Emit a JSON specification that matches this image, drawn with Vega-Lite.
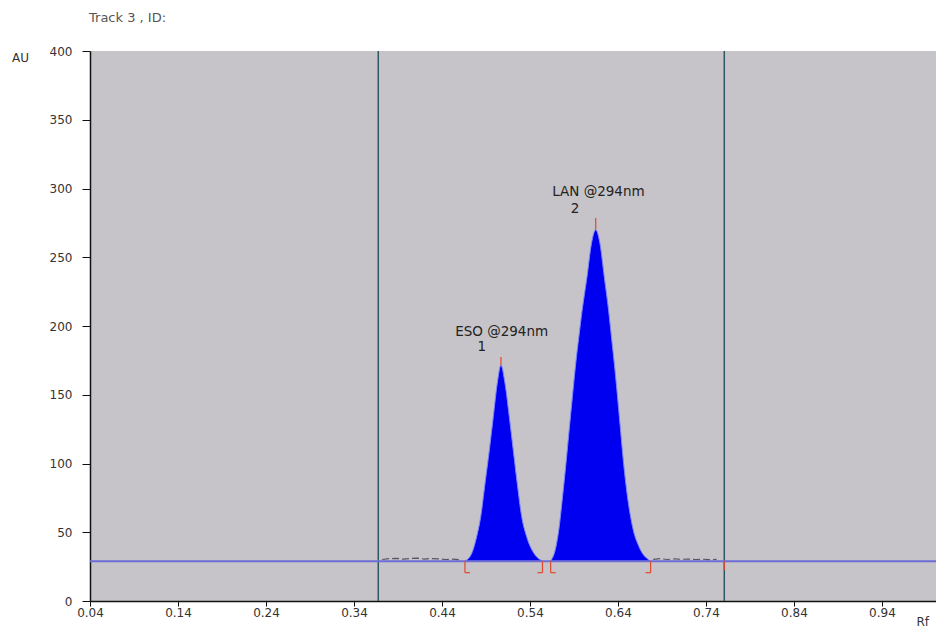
{
  "$schema": "https://vega.github.io/schema/vega-lite/v6.json",
  "width": 846,
  "height": 550,
  "autosize": {"type": "none"},
  "padding": {"left": 90, "top": 51, "right": 0, "bottom": 29},
  "background": "#ffffff",
  "title": {"text": "Track 3 , ID:", "anchor": "start", "frame": "group", "dx": -1, "offset": 7, "baseline": "bottom", "font": "DejaVu Sans", "fontSize": 13, "fontWeight": "normal", "color": "#555555"},
  "config": {
    "view": {"fill": "#c6c4c8", "stroke": null},
    "axis": {"grid": false, "domainColor": "#111111", "domainWidth": 1.5, "tickColor": "#111111", "labelFont": "DejaVu Sans", "labelFontSize": 12, "labelColor": "#333333", "titleFont": "DejaVu Sans", "titleFontSize": 12, "titleFontWeight": "normal", "titleColor": "#333333"}
  },
  "datasets": {
    "vlines": [{"rf": 0.3676}, {"rf": 0.7608}],
    "peaks": [
      {"peak": "ESO", "rf": 0.4661, "au": 29},
      {"peak": "ESO", "rf": 0.4738, "au": 34.7},
      {"peak": "ESO", "rf": 0.4794, "au": 46.8},
      {"peak": "ESO", "rf": 0.4840, "au": 61.3},
      {"peak": "ESO", "rf": 0.4889, "au": 85.6},
      {"peak": "ESO", "rf": 0.4938, "au": 109.8},
      {"peak": "ESO", "rf": 0.4983, "au": 134.0},
      {"peak": "ESO", "rf": 0.5028, "au": 158.3},
      {"peak": "ESO", "rf": 0.5070, "au": 171.6},
      {"peak": "ESO", "rf": 0.5116, "au": 158.3},
      {"peak": "ESO", "rf": 0.5165, "au": 134.0},
      {"peak": "ESO", "rf": 0.5210, "au": 109.8},
      {"peak": "ESO", "rf": 0.5255, "au": 85.6},
      {"peak": "ESO", "rf": 0.5306, "au": 61.3},
      {"peak": "ESO", "rf": 0.5362, "au": 46.8},
      {"peak": "ESO", "rf": 0.5445, "au": 34.7},
      {"peak": "ESO", "rf": 0.5542, "au": 29},
      {"peak": "LAN", "rf": 0.5635, "au": 29},
      {"peak": "LAN", "rf": 0.5695, "au": 39.5},
      {"peak": "LAN", "rf": 0.5727, "au": 51.6},
      {"peak": "LAN", "rf": 0.5770, "au": 75.9},
      {"peak": "LAN", "rf": 0.5809, "au": 100.1},
      {"peak": "LAN", "rf": 0.5845, "au": 124.4},
      {"peak": "LAN", "rf": 0.5882, "au": 148.6},
      {"peak": "LAN", "rf": 0.5920, "au": 172.9},
      {"peak": "LAN", "rf": 0.5955, "au": 192.0},
      {"peak": "LAN", "rf": 0.5993, "au": 211.6},
      {"peak": "LAN", "rf": 0.6048, "au": 235.9},
      {"peak": "LAN", "rf": 0.6099, "au": 260.1},
      {"peak": "LAN", "rf": 0.6147, "au": 270.0},
      {"peak": "LAN", "rf": 0.6195, "au": 260.1},
      {"peak": "LAN", "rf": 0.6244, "au": 235.9},
      {"peak": "LAN", "rf": 0.6293, "au": 211.6},
      {"peak": "LAN", "rf": 0.6326, "au": 192.0},
      {"peak": "LAN", "rf": 0.6358, "au": 172.9},
      {"peak": "LAN", "rf": 0.6395, "au": 148.6},
      {"peak": "LAN", "rf": 0.6429, "au": 124.4},
      {"peak": "LAN", "rf": 0.6464, "au": 100.1},
      {"peak": "LAN", "rf": 0.6508, "au": 75.9},
      {"peak": "LAN", "rf": 0.6574, "au": 51.6},
      {"peak": "LAN", "rf": 0.6639, "au": 39.5},
      {"peak": "LAN", "rf": 0.6771, "au": 29}
    ],
    "noise": [
      {"seg": "a", "rf": 0.372, "au": 30.2},
      {"seg": "a", "rf": 0.380, "au": 30.8},
      {"seg": "a", "rf": 0.388, "au": 31.0},
      {"seg": "a", "rf": 0.396, "au": 30.4},
      {"seg": "a", "rf": 0.404, "au": 30.9},
      {"seg": "a", "rf": 0.412, "au": 31.2},
      {"seg": "a", "rf": 0.420, "au": 30.5},
      {"seg": "a", "rf": 0.428, "au": 30.9},
      {"seg": "a", "rf": 0.436, "au": 30.6},
      {"seg": "a", "rf": 0.444, "au": 30.2},
      {"seg": "a", "rf": 0.452, "au": 30.4},
      {"seg": "a", "rf": 0.460, "au": 30.0},
      {"seg": "b", "rf": 0.680, "au": 30.3},
      {"seg": "b", "rf": 0.688, "au": 30.8},
      {"seg": "b", "rf": 0.696, "au": 30.2},
      {"seg": "b", "rf": 0.704, "au": 30.6},
      {"seg": "b", "rf": 0.712, "au": 30.3},
      {"seg": "b", "rf": 0.720, "au": 30.5},
      {"seg": "b", "rf": 0.728, "au": 30.2},
      {"seg": "b", "rf": 0.736, "au": 30.4},
      {"seg": "b", "rf": 0.744, "au": 30.1},
      {"seg": "b", "rf": 0.752, "au": 30.3}
    ],
    "marks": [
      {"rf": 0.4661, "rf2": 0.4661, "au": 29, "au2": 20.6},
      {"rf": 0.4661, "rf2": 0.4718, "au": 20.6, "au2": 20.6},
      {"rf": 0.5542, "rf2": 0.5542, "au": 29, "au2": 20.6},
      {"rf": 0.5485, "rf2": 0.5542, "au": 20.6, "au2": 20.6},
      {"rf": 0.5635, "rf2": 0.5635, "au": 29, "au2": 20.6},
      {"rf": 0.5635, "rf2": 0.5692, "au": 20.6, "au2": 20.6},
      {"rf": 0.6771, "rf2": 0.6771, "au": 29, "au2": 20.6},
      {"rf": 0.6714, "rf2": 0.6771, "au": 20.6, "au2": 20.6},
      {"rf": 0.5070, "rf2": 0.5070, "au": 171.6, "au2": 177.5},
      {"rf": 0.6147, "rf2": 0.6147, "au": 270, "au2": 278.5},
      {"rf": 0.7608, "rf2": 0.7608, "au": 29, "au2": 22.5}
    ],
    "labels": [
      {"rf": 0.5078, "au": 195.9, "text": "ESO @294nm"},
      {"rf": 0.4851, "au": 185.0, "text": "1"},
      {"rf": 0.6178, "au": 297.7, "text": "LAN @294nm"},
      {"rf": 0.5911, "au": 284.9, "text": "2"}
    ],
    "base": [{"au": 29}]
  },
  "layer": [
    {
      "data": {"name": "peaks"},
      "mark": {"type": "area", "color": "#0000f0", "stroke": "#7f86ff", "strokeWidth": 1, "interpolate": "monotone"},
      "encoding": {
        "x": {"field": "rf", "type": "quantitative", "scale": {"domain": [0.04, 1.0014], "nice": false, "zero": false},
          "axis": {"values": [0.04, 0.14, 0.24, 0.34, 0.44, 0.54, 0.64, 0.74, 0.84, 0.94], "format": ".2f", "tickSize": 5, "labelPadding": 1, "labelFlush": false, "title": "Rf", "titleX": 826, "titleY": 20, "titleAlign": "left", "titleBaseline": "middle"}},
        "y": {"field": "au", "type": "quantitative", "scale": {"domain": [0, 400], "nice": false},
          "axis": {"values": [0, 50, 100, 150, 200, 250, 300, 350, 400], "tickSize": 8, "labelPadding": 10, "title": "AU", "titleAngle": 0, "titleX": -70, "titleY": 6, "titleAlign": "center", "titleBaseline": "middle"}},
        "y2": {"datum": 29},
        "detail": {"field": "peak"}
      }
    },
    {
      "data": {"name": "vlines"},
      "mark": {"type": "rule", "color": "#2d5a62", "strokeWidth": 1.5},
      "encoding": {"x": {"field": "rf", "type": "quantitative"}}
    },
    {
      "data": {"name": "base"},
      "mark": {"type": "rule", "color": "#6e6cd6", "strokeWidth": 2},
      "encoding": {"y": {"field": "au", "type": "quantitative"}}
    },
    {
      "data": {"name": "noise"},
      "mark": {"type": "line", "color": "#555566", "strokeWidth": 1.2, "strokeDash": [7, 3]},
      "encoding": {
        "x": {"field": "rf", "type": "quantitative"},
        "y": {"field": "au", "type": "quantitative"},
        "detail": {"field": "seg"}
      }
    },
    {
      "data": {"name": "marks"},
      "mark": {"type": "rule", "color": "#e0482e", "strokeWidth": 1.2},
      "encoding": {
        "x": {"field": "rf", "type": "quantitative"},
        "x2": {"field": "rf2"},
        "y": {"field": "au", "type": "quantitative"},
        "y2": {"field": "au2"}
      }
    },
    {
      "data": {"name": "labels"},
      "mark": {"type": "text", "font": "DejaVu Sans", "fontSize": 13.5, "color": "#222222", "align": "center", "baseline": "middle"},
      "encoding": {
        "x": {"field": "rf", "type": "quantitative"},
        "y": {"field": "au", "type": "quantitative"},
        "text": {"field": "text"}
      }
    }
  ]
}
